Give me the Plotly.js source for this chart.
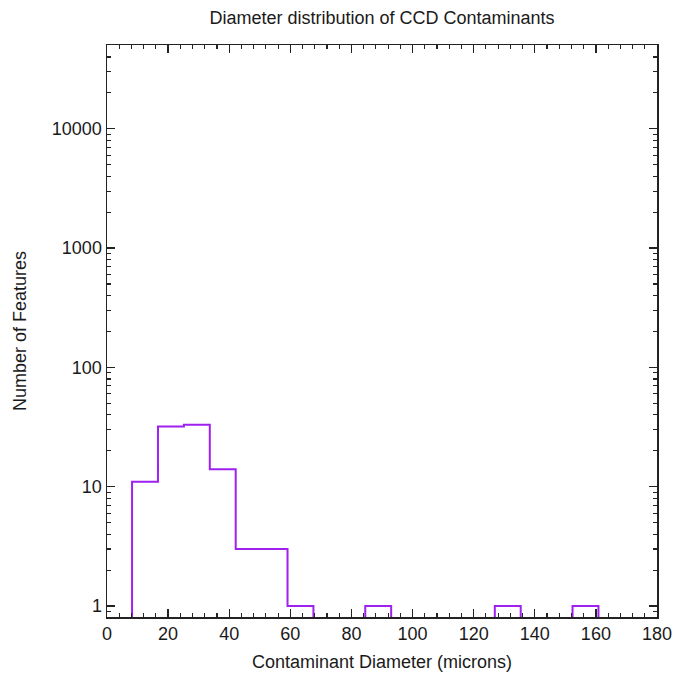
<!DOCTYPE html>
<html>
<head>
<meta charset="utf-8">
<script src="https://cdn.plot.ly/plotly-3.0.1.min.js"></script>
<style>
  html, body { margin: 0; padding: 0; background: #fff; }
  #chart { width: 677px; height: 676px; }
</style>
</head>
<body>
<div id="chart"></div>
<script>
// Histogram of contaminant diameters (microns)
const binStart = 8.2;
const binWidth = 8.48;
const counts = [11, 32, 33, 14, 3, 3, 1, 0, 0, 1, 0, 0, 0, 0, 1, 0, 0, 1];

const yTickVals = [1, 10, 100, 1000, 10000];
const yTickText = ['1', '10', '100', '1000', '10000'];
const xTickVals = [0, 20, 40, 60, 80, 100, 120, 140, 160, 180];

// Empty bins sit below the log axis floor so the outline drops off the plot
const floor = 0.1;
const edges = counts.map((_, i) => binStart + i * binWidth);
edges.push(binStart + counts.length * binWidth);

const xs = [edges[0]];
const ys = [floor];
counts.forEach((c, i) => { xs.push(edges[i]); ys.push(c > 0 ? c : floor); });
xs.push(edges[edges.length - 1]);
ys.push(floor);

const minorY = [0.9];
for (let d = 1; d <= 10000; d *= 10) {
  for (let k = 2; k <= 9; k++) minorY.push(k * d);
}

const trace = {
  x: xs, y: ys,
  type: 'scatter', mode: 'lines',
  line: { shape: 'hv', color: '#a020f0', width: 2 },
  hoverinfo: 'skip'
};

const axisFont = { family: 'Liberation Sans, Arial, sans-serif', size: 18, color: '#1a1a1a' };

const layout = {
  width: 677, height: 676,
  margin: { l: 107, r: 20, t: 45, b: 59 },
  paper_bgcolor: '#fff', plot_bgcolor: '#fff',
  showlegend: false,
  title: {
    text: 'Diameter distribution of CCD Contaminants',
    font: { family: 'Liberation Sans, Arial, sans-serif', size: 18, color: '#1a1a1a' },
    x: 0.5, xref: 'paper', xanchor: 'center',
    y: 1 - 18 / 676, yref: 'container', yanchor: 'middle'
  },
  xaxis: {
    range: [0, 180],
    tickmode: 'array', tickvals: xTickVals,
    ticks: 'inside', ticklen: 8, tickwidth: 1.3, tickcolor: '#222',
    minor: { dtick: 4, tick0: 0, ticks: 'inside', ticklen: 4, tickwidth: 1.2, tickcolor: '#222' },
    showline: true, linecolor: '#222', linewidth: 1.5, mirror: 'ticks',
    showgrid: false, zeroline: false,
    tickfont: axisFont,
    title: { text: 'Contaminant Diameter (microns)', font: axisFont, standoff: 12 }
  },
  yaxis: {
    type: 'log',
    range: [-0.092, 4.702],
    tickmode: 'array', tickvals: yTickVals, ticktext: yTickText,
    ticks: 'inside', ticklen: 8, tickwidth: 1.3, tickcolor: '#222',
    minor: { tickmode: 'array', tickvals: minorY, ticks: 'inside', ticklen: 4, tickwidth: 1.2, tickcolor: '#222' },
    showline: true, linecolor: '#222', linewidth: 1.5, mirror: 'ticks',
    showgrid: false, zeroline: false,
    tickfont: axisFont,
    title: { text: 'Number of Features', font: axisFont, standoff: 20 }
  }
};

Plotly.newPlot('chart', [trace], layout, { staticPlot: true, displayModeBar: false });
</script>
</body>
</html>
